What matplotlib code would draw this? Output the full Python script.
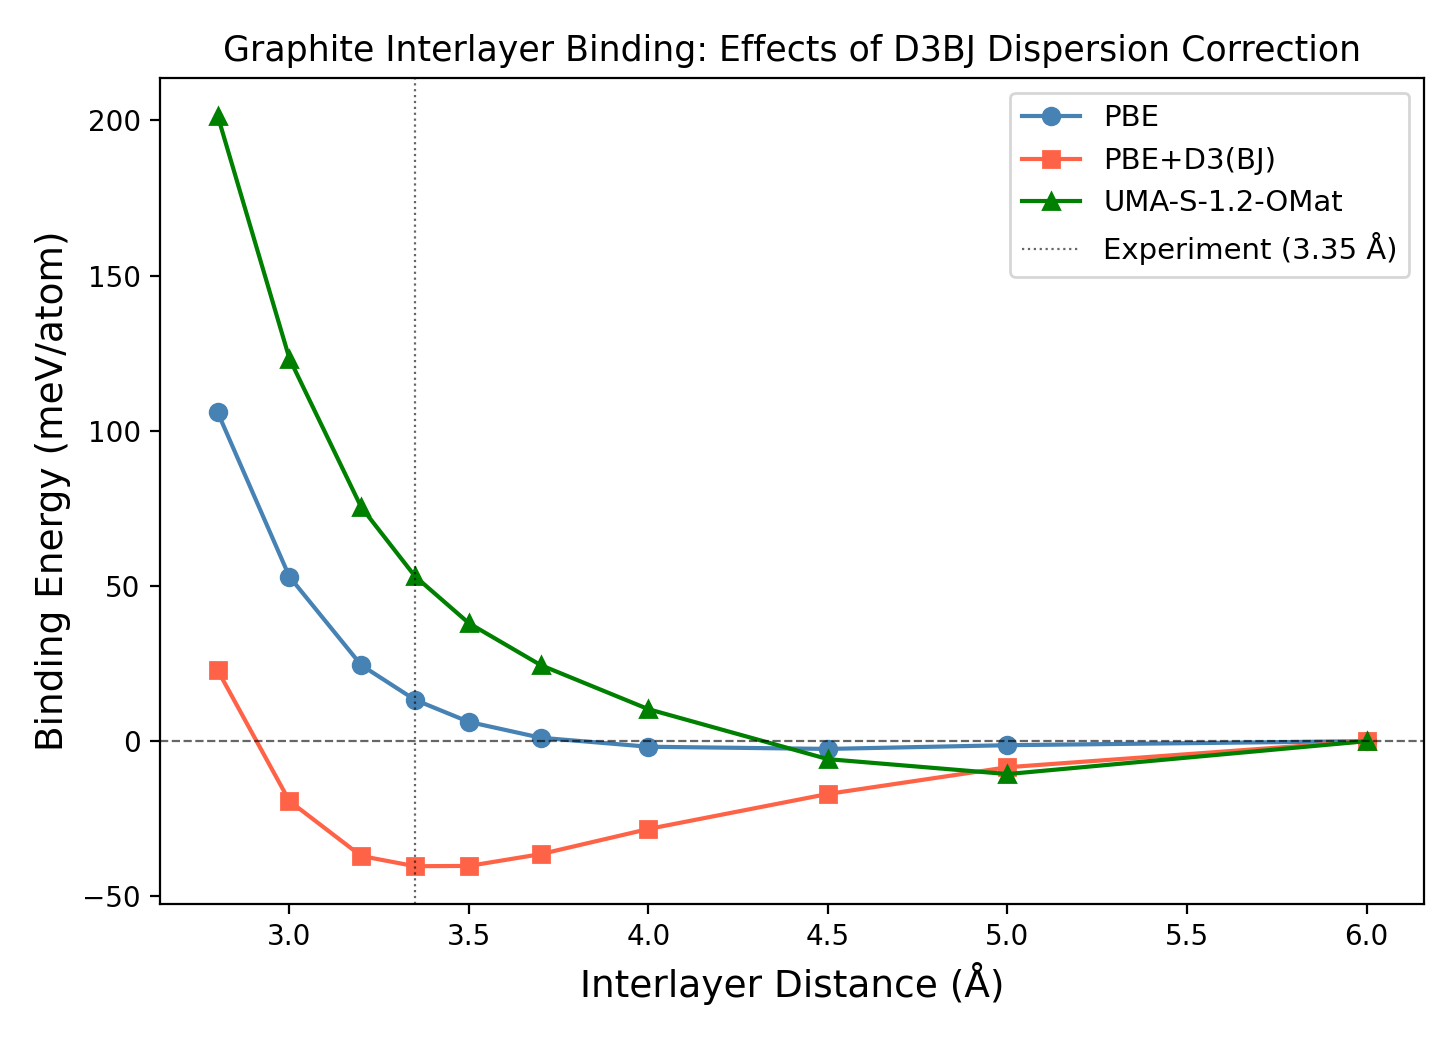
import matplotlib
matplotlib.use('Agg')
import matplotlib.pyplot as plt

distances = [2.8, 3.0, 3.2, 3.35, 3.5, 3.7, 4.0, 4.5, 5.0, 6.0]
pbe = [106.0, 53.0, 24.5, 13.3, 6.2, 1.1, -1.8, -2.5, -1.3, 0.0]
pbe_d3bj = [22.9, -19.3, -37.0, -40.3, -40.2, -36.4, -28.3, -17.0, -8.4, 0.0]
uma = [201.6, 123.3, 75.4, 53.1, 38.0, 24.5, 10.3, -5.8, -10.6, 0.0]
exp_distance = 3.35

fig, ax = plt.subplots(figsize=(7.28, 5.2), dpi=200)
ax.plot(distances, pbe, 'o-', color='steelblue', label='PBE', markersize=6)
ax.plot(distances, pbe_d3bj, 's-', color='tomato', label='PBE+D3(BJ)', markersize=6)
ax.plot(distances, uma, '^-', color='green', label='UMA-S-1.2-OMat', markersize=6)
ax.axhline(0, color='k', linestyle='--', linewidth=0.8, alpha=0.6)
ax.axvline(exp_distance, color='k', linestyle=':', linewidth=0.8, alpha=0.6,
           label='Experiment (3.35 Å)')
ax.set_xlabel('Interlayer Distance (Å)', fontsize=13.5)
ax.set_ylabel('Binding Energy (meV/atom)', fontsize=13.5)
ax.set_title('Graphite Interlayer Binding: Effects of D3BJ Dispersion Correction', fontsize=12.5)
ax.legend(fontsize=10.5)
fig.subplots_adjust(left=0.110, right=0.978, top=0.925, bottom=0.131)
fig.savefig('out.png', dpi=200)
